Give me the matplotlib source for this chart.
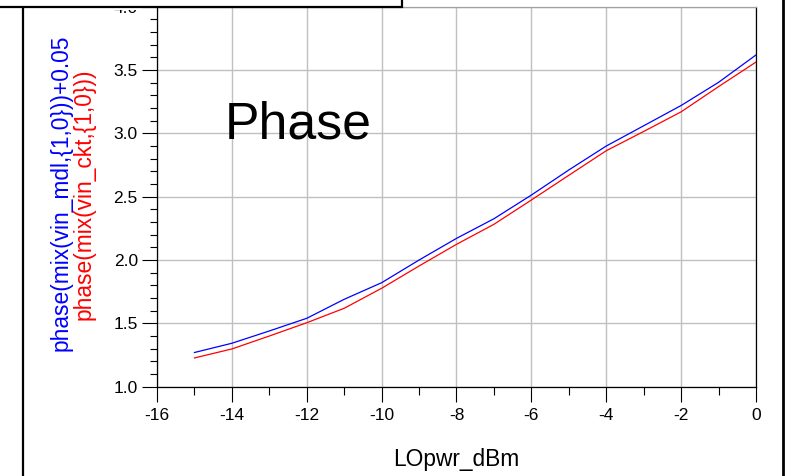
import matplotlib
matplotlib.use("Agg")
import matplotlib.pyplot as plt
from matplotlib.lines import Line2D
from matplotlib.patches import Rectangle
from matplotlib.ticker import MultipleLocator, FormatStrFormatter

plt.rcParams['font.family'] = ['Liberation Sans', 'DejaVu Sans']

# Data
lo_pwr_dbm = [-15, -14, -13, -12, -11, -10, -9, -8, -7, -6, -5, -4, -3, -2, -1, 0]
phase_mdl_plus = [1.270, 1.343, 1.440, 1.540, 1.690, 1.821, 2.000, 2.171,
                  2.326, 2.513, 2.711, 2.900, 3.060, 3.220, 3.403, 3.619]
phase_ckt = [1.227, 1.298, 1.400, 1.505, 1.619, 1.777, 1.953, 2.124,
             2.282, 2.474, 2.669, 2.863, 3.015, 3.170, 3.369, 3.563]

W, H = 787, 476
fig = plt.figure(figsize=(W / 100, H / 100), dpi=100)
fig.patch.set_facecolor('white')

L, R, T, B = 157, 756, 6.7, 386.7
ax = fig.add_axes([L / W, 1 - B / H, (R - L) / W, (B - T) / H])

ax.plot(lo_pwr_dbm, phase_mdl_plus, color='#0000ff', lw=0.9, zorder=3)
ax.plot(lo_pwr_dbm, phase_ckt, color='#ff0000', lw=0.9, zorder=3)

ax.set_xlim(-16, 0)
ax.set_ylim(1.0, 4.0)
ax.xaxis.set_major_locator(MultipleLocator(2))
ax.xaxis.set_minor_locator(MultipleLocator(1))
ax.yaxis.set_major_locator(MultipleLocator(0.5))
ax.yaxis.set_minor_locator(MultipleLocator(0.1))
ax.yaxis.set_major_formatter(FormatStrFormatter('%.1f'))
ax.xaxis.set_major_formatter(FormatStrFormatter('%d'))

ax.grid(True, which='major', color='#c0c0c0', lw=1.0)
ax.set_axisbelow(True)

ax.tick_params(which='major', direction='out', length=10.8, width=0.8,
               labelsize=12.5, colors='black')
ax.tick_params(axis='x', which='major', pad=4.5)
ax.tick_params(axis='y', which='major', pad=3)
ax.tick_params(which='minor', direction='out', length=5.4, width=0.8)

for s in ['left', 'bottom', 'right']:
    ax.spines[s].set_color('black')
    ax.spines[s].set_linewidth(0.9)
ax.spines['top'].set_color('#a0a0a0')
ax.spines['top'].set_linewidth(0.9)

ax.set_xlabel('LOpwr_dBm', fontsize=16.4, labelpad=18)

ax.text(-14.2, 2.961, 'Phase', fontsize=37.3, ha='left', va='baseline', zorder=4)

fig.text(61.5 / W, 1 - 193 / H, 'phase(mix(vin_mdl,{1,0}))+0.05', rotation=90,
         ha='center', va='center', color='#0000ff', fontsize=16.4)
fig.text(84 / W, 1 - 194 / H, 'phase(mix(vin_ckt,{1,0}))', rotation=90,
         ha='center', va='center', color='#ff0000', fontsize=16.4)

# Hidden part of the clipped top tick label
fig.patches.append(Rectangle((100 / W, 1 - 10 / H), 40 / W, 10 / H,
                             transform=fig.transFigure, facecolor='white',
                             edgecolor='none', zorder=4))
# Frame / legend box pieces
fig.patches.append(Rectangle((-0.01, 1 - 6.5 / H), 402 / W + 0.01, 0.05,
                             transform=fig.transFigure, facecolor='white',
                             edgecolor='black', lw=1.6, zorder=5))
fig.lines.append(Line2D([22.5 / W, 22.5 / W], [0, 1 - 6 / H], transform=fig.transFigure,
                        color='black', lw=1.6, zorder=5))
fig.lines.append(Line2D([783 / W, 783 / W], [0, 1], transform=fig.transFigure,
                        color='black', lw=2.0, zorder=5))

fig.savefig('out.png', dpi=100)
